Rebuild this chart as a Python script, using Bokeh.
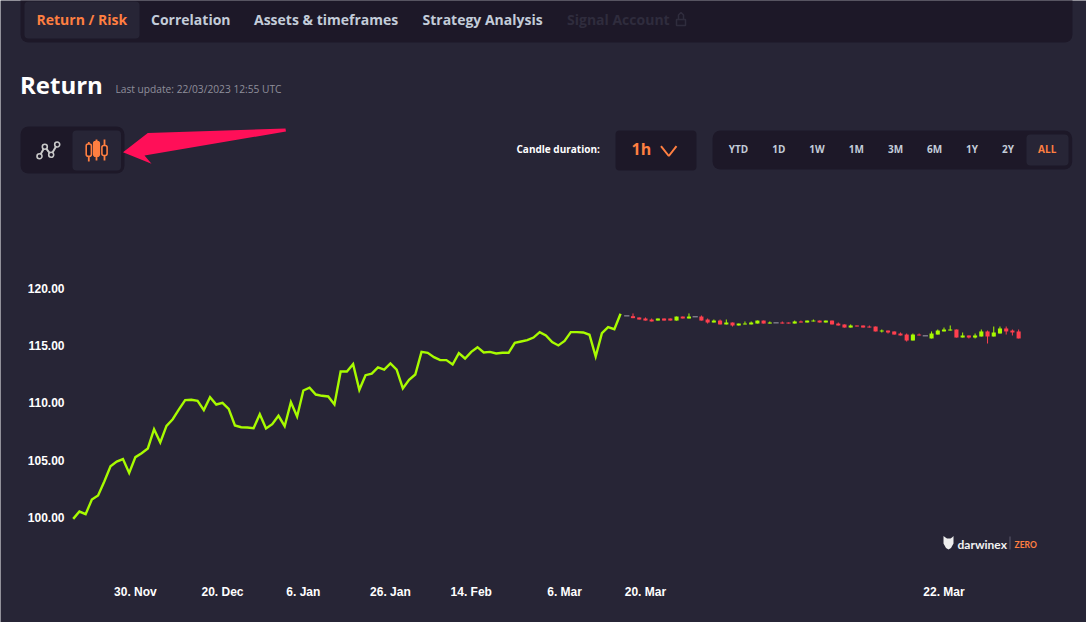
from bokeh.plotting import figure
from bokeh.models import Range1d, FixedTicker, NumeralTickFormatter, LinearAxis
from bokeh.core.properties import value
from bokeh.embed import file_html
from bokeh.resources import INLINE

# ---------- data ----------
line_values = [
    99.88, 100.52, 100.29, 101.57, 101.92, 103.14, 104.47, 104.88, 105.09, 103.89,
    105.26, 105.61, 106.02, 107.70, 106.54, 107.99, 108.57, 109.42, 110.23, 110.26,
    110.17, 109.36, 110.49, 109.85, 110.00, 109.47, 108.02, 107.87, 107.85, 107.79,
    109.01, 107.76, 108.14, 108.87, 107.96, 110.05, 108.81, 111.07, 111.31, 110.72,
    110.61, 110.55, 109.85,
    112.73, 112.73, 113.37, 111.13, 112.41, 112.55, 113.08, 112.90, 113.43, 112.90,
    111.25, 112.00, 112.47, 114.44, 114.36, 113.98, 113.72, 113.72, 113.34, 114.33,
    113.86, 114.44, 114.85, 114.39, 114.44, 114.30, 114.36, 114.36, 115.23, 115.34,
    115.46, 115.69, 116.16, 115.87, 115.29, 115.00, 115.40, 116.16, 116.16, 116.13,
    115.93, 114.04, 116.07, 116.59, 116.42, 117.76,
]
candle_open = [
    117.58, 117.55, 117.44, 117.35, 117.26, 117.17, 117.35, 117.35, 117.17, 117.52, 117.35, 117.50,
    117.52, 117.26, 117.00, 117.17, 116.83, 117.00, 116.74, 116.83, 116.83, 116.91, 117.17, 116.91,
    116.97, 117.00, 117.00, 116.91, 117.09, 117.00, 117.09, 117.17, 117.00, 117.17, 116.91, 116.83,
    116.56, 116.74, 116.74, 116.65, 116.65, 116.22, 116.30, 116.22, 116.04, 115.95, 115.43, 115.95,
    115.84, 115.61, 115.95, 116.22, 116.30, 116.39, 115.69, 115.87, 115.69, 115.78, 116.22, 115.78,
    116.04, 116.48, 116.30, 116.22,
]
candle_close = [
    117.58, 117.38, 117.26, 117.17, 117.09, 117.35, 117.17, 117.17, 117.52, 117.35, 117.52, 117.50,
    117.17, 117.00, 117.17, 116.83, 117.00, 116.74, 116.91, 116.91, 117.00, 117.17, 116.91, 117.00,
    116.97, 116.91, 116.91, 117.09, 117.00, 117.17, 117.17, 117.00, 117.17, 116.83, 116.74, 116.56,
    116.74, 116.65, 116.56, 116.56, 116.22, 116.30, 116.13, 115.95, 115.87, 115.43, 115.95, 115.87,
    115.84, 116.04, 116.30, 116.39, 116.39, 115.69, 115.87, 115.69, 115.87, 116.22, 115.78, 116.13,
    116.48, 116.22, 116.13, 115.61,
]
candle_high = [
    117.58, 117.79, 117.44, 117.44, 117.35, 117.35, 117.35, 117.35, 117.52, 117.52, 117.79, 117.50,
    117.61, 117.35, 117.26, 117.26, 117.26, 117.00, 116.91, 117.09, 117.09, 117.17, 117.17, 117.09,
    116.97, 117.09, 117.00, 117.17, 117.17, 117.17, 117.26, 117.17, 117.17, 117.17, 117.00, 116.83,
    116.83, 116.74, 116.74, 116.74, 116.65, 116.39, 116.30, 116.22, 116.13, 116.04, 116.04, 116.04,
    115.84, 116.22, 116.39, 116.56, 116.74, 116.39, 116.13, 115.87, 116.04, 116.39, 116.30, 116.65,
    116.65, 116.65, 116.39, 116.39,
]
candle_low = [
    117.58, 117.38, 117.26, 117.17, 117.09, 117.17, 117.17, 117.17, 117.17, 117.35, 117.35, 117.50,
    117.17, 116.91, 117.00, 116.83, 116.83, 116.65, 116.74, 116.83, 116.83, 116.91, 116.91, 116.91,
    116.97, 116.91, 116.91, 116.91, 117.00, 117.00, 117.09, 117.00, 117.00, 116.83, 116.74, 116.56,
    116.56, 116.65, 116.56, 116.56, 116.22, 116.13, 116.04, 115.95, 115.87, 115.34, 115.43, 115.87,
    115.84, 115.61, 115.95, 116.22, 116.30, 115.69, 115.69, 115.61, 115.61, 115.78, 115.17, 115.78,
    116.04, 115.95, 115.87, 115.61,
]
y_ticks = [100, 105, 110, 115, 120]
x_tick_index = [10, 24, 37, 51, 64, 79, 92, 140]
x_tick_labels = ["30. Nov", "20. Dec", "6. Jan", "26. Jan", "14. Feb", "6. Mar", "20. Mar", "22. Mar"]
nav_labels = ["Return / Risk", "Correlation", "Assets & timeframes", "Strategy Analysis", "Signal Account"]
range_labels = ["YTD", "1D", "1W", "1M", "3M", "6M", "1Y", "2Y", "ALL"]

# ---------- style ----------
W, H = 1086, 622
BG = "#272536"
DARK = "#1d1828"
ORANGE = "#ff7f41"
GREEN = "#a8fb00"
RED = "#ff3f4e"
GREY = "#8f8d9c"
SOFT = "#c3ccd9"
DIM = "#2f2c3d"
OPEN = value("Open Sans")
STEP = 6.22
X0 = 72.7
V_PX = 11.47

p = figure(width=W, height=H, toolbar_location=None, output_backend="svg",
           x_range=Range1d((0 - X0) / STEP, (W - X0) / STEP),
           y_range=Range1d(100 + (517 - H) / V_PX, 100 + 517 / V_PX),
           x_axis_type=None, y_axis_type=None,
           background_fill_color=BG, border_fill_color=BG, outline_line_color=None, min_border=0)
p.grid.visible = False
p.extra_x_ranges = {"px": Range1d(0, W)}
p.extra_y_ranges = {"py": Range1d(H, 0)}
px = dict(x_range_name="px", y_range_name="py")


def box(l, r, t, b, color, radius=6):
    p.quad(left=[l], right=[r], top=[t], bottom=[b], fill_color=color, line_color=None, border_radius=radius, **px)


def label(x, y, s, size, color, align="left", style="bold"):
    p.text(x=[x], y=[y], text=[s], text_font=OPEN, text_font_style=style, text_font_size=size,
           text_color=color, text_align=align, text_baseline="middle", **px)


box(20, 1072, -8, 42, DARK, 8)
box(24, 139, 1, 38, BG, 4)
for x, s, c in zip([36, 150.5, 253.5, 422, 566.5], nav_labels, [ORANGE, SOFT, SOFT, SOFT, DIM]):
    label(x, 19, s, "14px", c)
p.quad(left=[676], right=[685], top=[19], bottom=[25], fill_color=None, line_color=DIM, line_width=1.5, **px)
p.line([678, 678, 680.5, 683, 683], [19, 14.5, 12, 14.5, 19], line_color=DIM, line_width=1.5, **px)

label(19.5, 83.5, "Return", "24px", "#ffffff")
label(115, 88, "Last update: 22/03/2023 12:55 UTC", "10.2px", "#8f8f9b", style="normal")

box(20, 124, 126, 173, DARK, 8)
box(72, 120.5, 130, 170, BG, 4)
icon_x, icon_y = [39, 44.3, 50.7, 56.7], [155.7, 146.3, 154.3, 144]
p.line(icon_x, icon_y, line_color="#c9c9c9", line_width=2, **px)
p.scatter(icon_x, icon_y, size=5, fill_color=DARK, line_color="#c9c9c9", line_width=1.6, **px)
for ix, t, b, bt, bb, hw, fill in [(88.3, 141.5, 161, 143.5, 155.7, 2.6, DARK), (96, 139, 160, 141, 155.7, 2.8, ORANGE),
                                    (104, 139, 160, 145, 155, 2.6, DARK)]:
    p.line([ix, ix], [t, b], line_color=ORANGE, line_width=1.8, **px)
    p.quad(left=[ix - hw], right=[ix + hw], top=[bt], bottom=[bb], fill_color=fill,
           line_color=ORANGE, line_width=1.6, border_radius=2, **px)
p.patch([122.5, 147.3, 285, 285.5, 144, 151], [151.7, 132.5, 128, 131, 155, 163.3],
        fill_color="#ff0f58", line_color=None, **px)

label(516, 148.5, "Candle duration:", "10px", "#ffffff")
box(615, 696, 130, 170, DARK, 4)
label(631, 148.5, "1h", "16px", ORANGE)
p.line([660.5, 668.3, 676], [145.7, 155.5, 145.7], line_color=ORANGE, line_width=2, **px)

box(712, 1071.7, 130, 169, DARK, 8)
box(1026, 1068, 134, 165, BG, 4)
for x, s in zip([738, 778.4, 816.5, 855.8, 895, 934, 971.6, 1007.5, 1046.7], range_labels):
    label(x, 148.7, s, "10px", ORANGE if s == "ALL" else SOFT, align="center")

# ---------- chart ----------
yax = LinearAxis(ticker=FixedTicker(ticks=y_ticks), formatter=NumeralTickFormatter(format="0.00"),
                 fixed_location=(72 - X0) / STEP, major_label_standoff=2)
xax = LinearAxis(ticker=FixedTicker(ticks=x_tick_index), major_label_overrides=dict(zip(x_tick_index, x_tick_labels)),
                 fixed_location=100 + (517 - 575) / V_PX, major_label_standoff=3)
for ax in (xax, yax):
    ax.axis_line_color = None
    ax.major_tick_line_color = None
    ax.minor_tick_line_color = None
    ax.major_label_text_color = "#ffffff"
    ax.major_label_text_font = "Liberation Sans"
    ax.major_label_text_font_style = "bold"
    ax.major_label_text_font_size = "12px"
p.add_layout(yax, "left")
p.add_layout(xax, "below")

p.line(list(range(len(line_values))), line_values, line_color=GREEN, line_width=2.4, line_join="miter")

cx = [len(line_values) + i for i in range(len(candle_open))]
colors = [GREEN if c > o else (RED if c < o else GREY) for o, c in zip(candle_open, candle_close)]
p.segment(cx, candle_high, cx, candle_low, line_color=colors, line_width=1)
solid = [i for i, c in enumerate(colors) if c != GREY]
flat = [i for i, c in enumerate(colors) if c == GREY]
p.vbar(x=[cx[i] for i in solid], width=0.66,
       top=[max(candle_open[i], candle_close[i]) for i in solid],
       bottom=[min(candle_open[i], candle_close[i]) for i in solid],
       fill_color=[colors[i] for i in solid], line_color=None)
p.segment([cx[i] - 0.42 for i in flat], [candle_close[i] for i in flat],
          [cx[i] + 0.42 for i in flat], [candle_close[i] for i in flat],
          line_color=GREY, line_width=1.2)

# logo
p.patch([943, 945, 946.5, 950, 951.5, 953, 953, 950.5, 948, 945.5, 943],
        [535.5, 537, 538, 538, 537, 535.5, 543, 547.5, 549, 547.5, 543],
        fill_color="#eeeeee", line_color=None, **px)
p.text(x=[957], y=[543.5], text=["darwinex"], text_font=value("Lato"), text_font_style="bold", text_font_size="12px",
       text_color="#f2f2f2", text_baseline="middle", **px)
p.segment([1009.5], [536], [1009.5], [549], line_color="#5d5b6c", line_width=1, **px)
p.text(x=[1014], y=[544], text=["ZERO"], text_font=value("Lato"), text_font_style="bold", text_font_size="8.5px",
       text_color=ORANGE, text_baseline="middle", **px)

open("out.html", "w").write(file_html(p, INLINE))
